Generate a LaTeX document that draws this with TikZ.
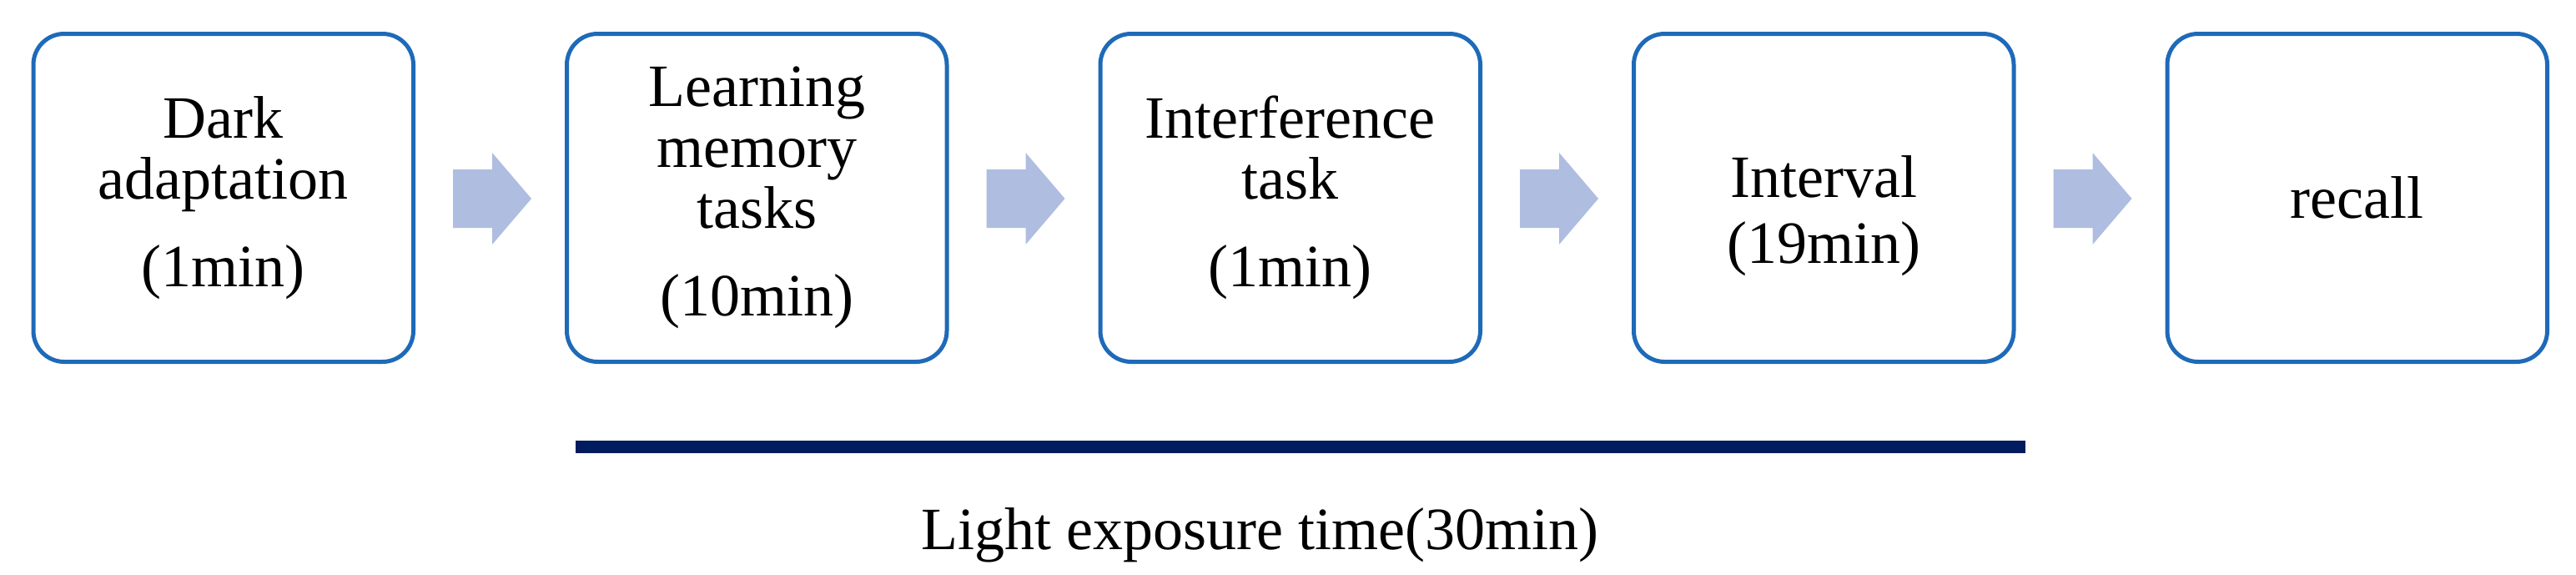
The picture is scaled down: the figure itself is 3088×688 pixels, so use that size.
\documentclass[tikz,border=0pt]{standalone}
\usepackage{fontspec}
\setmainfont{Liberation Serif}
\usetikzlibrary{calc}
\definecolor{boxblue}{RGB}{30,106,184}
\definecolor{arrowblue}{RGB}{174,189,224}
\definecolor{navybar}{RGB}{0,27,94}
\begin{document}
\begin{tikzpicture}[x=0.25pt,y=0.25pt,
  stepbox/.style={draw=boxblue, line width=1.25pt, rounded corners=9.25pt,
    minimum width=113.875pt, minimum height=98.25pt, outer sep=0pt, inner sep=0pt,
    align=center, font=\fontsize{18}{18.25}\selectfont},
  blockarrow/.style={fill=arrowblue},
  timebar/.style={draw=navybar, line width=3.75pt},
  lbltext/.style={font=\fontsize{18}{18.25}\selectfont, inner sep=0pt, anchor=base}]
\useasboundingbox (0,0) rectangle (3088,688);
\node[stepbox] (b1) at (267.75,451) {Dark\\adaptation\\[8pt](1min)};
\node[stepbox] (b2) at (907.25,451) {Learning\\memory\\tasks\\[8pt](10min)};
\node[stepbox] (b3) at (1546.75,451) {Interference\\task\\[8pt](1min)};
\node[stepbox] (b4) at (2186.25,451) {\rule{0pt}{23.5pt}Interval\\[1.5pt](19min)};
\node[stepbox] (b5) at (2825.75,451) {recall};
\foreach \a/\b in {b1/b2,b2/b3,b3/b4,b4/b5}
  \fill[blockarrow] ($(\a.east)+(47.5,34)$) -- ++(47,0) -- ++(0,20) -- ++(47,-55) -- ++(-47,-55) -- ++(0,20) -- ++(-47,0) -- cycle;
\coordinate (barL) at (690,152.5);
\coordinate (barR) at (2428,152.5);
\draw[timebar] (barL) -- (barR);
\node[lbltext] (lbl) at (1510,30) {Light exposure time(30min)};
\end{tikzpicture}
\end{document}
